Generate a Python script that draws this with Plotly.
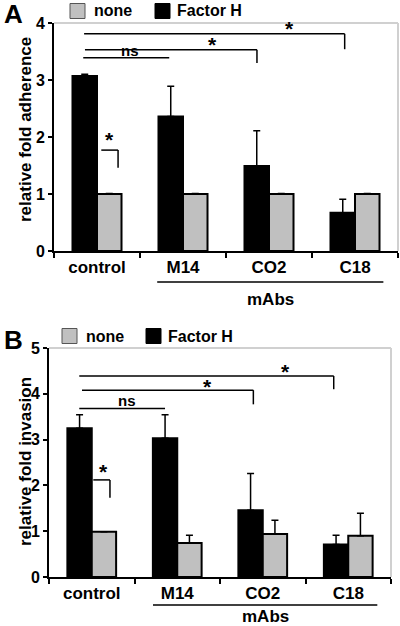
import plotly.graph_objects as go

# ---------------- data ----------------
categories = ["control", "M14", "CO2", "C18"]

adh_factorH = [3.07, 2.36, 1.49, 0.67]
adh_factorH_err = [0.03, 0.53, 0.62, 0.24]
adh_none = [1.0, 1.0, 1.0, 1.0]
adh_none_err = [0.01, 0.01, 0.01, 0.01]

inv_factorH = [3.25, 3.03, 1.46, 0.71]
inv_factorH_err = [0.29, 0.51, 0.80, 0.20]
inv_none = [0.99, 0.74, 0.94, 0.90]
inv_none_err = [0.0, 0.17, 0.30, 0.49]

series_names = ["none", "Factor H"]
panel_letters = ["A", "B"]
y_titles = ["relative fold adherence", "relative fold invasion"]
group_label = "mAbs"

FONT = "Liberation Sans, Arial, sans-serif"
GREY = "#c0c0c0"
W, H = 400, 626


def px(x):
    return x / W


def py(y):
    return 1 - y / H


fig = go.Figure()

panels = [
    dict(fh=adh_factorH, fhe=adh_factorH_err, no=adh_none, noe=adh_none_err, xa="x", ya="y"),
    dict(fh=inv_factorH, fhe=inv_factorH_err, no=inv_none, noe=inv_none_err, xa="x2", ya="y2"),
]

for p in panels:
    fig.add_trace(go.Bar(
        x=categories, y=p["fh"], name=series_names[1], showlegend=False,
        marker=dict(color="black", line=dict(color="black", width=2)),
        error_y=dict(type="data", symmetric=False, array=p["fhe"], arrayminus=[0] * 4,
                     color="black", thickness=1.5, width=3.5),
        xaxis=p["xa"], yaxis=p["ya"]))
    fig.add_trace(go.Bar(
        x=categories, y=p["no"], name=series_names[0], showlegend=False,
        marker=dict(color=GREY, line=dict(color="black", width=2)),
        error_y=dict(type="data", symmetric=False, array=p["noe"], arrayminus=[0] * 4,
                     color="black", thickness=1.5, width=3.5),
        xaxis=p["xa"], yaxis=p["ya"]))

xcommon = dict(type="category", categoryorder="array", categoryarray=categories,
               range=[-0.5, 3.5], showline=True, linecolor="black", linewidth=2,
               ticks="outside", tickson="boundaries", ticklen=5, tickwidth=2, tickcolor="black",
               showgrid=False, zeroline=False, automargin=False,
               tickfont=dict(family=FONT, size=17, color="black", weight="bold"))
ycommon = dict(showline=True, linecolor="black", linewidth=2, ticks="outside", ticklen=4,
               tickwidth=2, tickcolor="black", showgrid=False, zeroline=False, automargin=False,
               tickfont=dict(family=FONT, size=16, color="black", weight="bold"))

fig.update_layout(
    width=W, height=H, margin=dict(l=0, r=0, t=0, b=0, pad=0), autosize=False,
    paper_bgcolor="white", plot_bgcolor="white",
    barmode="group", bargap=0.43, bargroupgap=0, showlegend=False,
    xaxis=dict(domain=[px(54), px(398)], anchor="y", **xcommon),
    yaxis=dict(domain=[py(251), py(23)], anchor="x", range=[0, 4], tickvals=[0, 1, 2, 3, 4], **ycommon),
    xaxis2=dict(domain=[px(49), px(391)], anchor="y2", **xcommon),
    yaxis2=dict(domain=[py(577), py(348)], anchor="x2", range=[0, 5], tickvals=[0, 1, 2, 3, 4, 5], **ycommon),
)

shapes = []
annotations = []

# grey frame (top and right)
for xa, ya in [("x", "y"), ("x2", "y2")]:
    shapes.append(dict(type="line", xref=f"{xa} domain", yref=f"{ya} domain", x0=0, x1=1, y0=1, y1=1,
                       line=dict(color="#d0d0d0", width=2), layer="below"))
    shapes.append(dict(type="line", xref=f"{xa} domain", yref=f"{ya} domain", x0=1, x1=1, y0=0, y1=1,
                       line=dict(color="#d0d0d0", width=2), layer="below"))

# significance brackets: (x0, x1, y, drop_to, label, label_x, label_y)
brackets_A = [
    (-0.16, 0.84, 3.39, None, "ns", 0.38, 3.52),
    (-0.14, 1.86, 3.53, 3.30, "*", 1.34, 3.62),
    (-0.15, 2.88, 3.81, 3.54, "*", 2.24, 3.90),
    (0.05, 0.245, 1.77, 1.46, "*", 0.15, 1.96),
]
brackets_B = [
    (-0.146, 0.857, 3.68, None, "ns", 0.41, 3.86),
    (-0.114, 1.89, 4.08, 3.77, "*", 1.35, 4.16),
    (-0.146, 2.83, 4.39, 4.10, "*", 2.27, 4.48),
    (0.018, 0.213, 2.12, 1.73, "*", 0.14, 2.30),
]
for (xa, ya), brs in [(("x", "y"), brackets_A), (("x2", "y2"), brackets_B)]:
    for x0, x1, yv, drop, lab, lx, ly in brs:
        shapes.append(dict(type="line", xref=xa, yref=ya, x0=x0, x1=x1, y0=yv, y1=yv,
                           line=dict(color="black", width=1.5)))
        if drop is not None:
            shapes.append(dict(type="line", xref=xa, yref=ya, x0=x1, x1=x1, y0=yv, y1=drop,
                               line=dict(color="black", width=1.5)))
        annotations.append(dict(xref=xa, yref=ya, x=lx, y=ly, text=f"<b>{lab}</b>", showarrow=False,
                                font=dict(family=FONT, size=15 if lab == "ns" else 21, color="black"),
                                xanchor="center", yanchor="middle"))

# mAbs group line + label
for xa, yline, xl0, xl1, ytext in [("x", 282, 0.70, 3.33, 299), ("x2", 605, 0.716, 3.34, 616)]:
    shapes.append(dict(type="line", xref=xa, yref="paper", x0=xl0, x1=xl1, y0=py(yline), y1=py(yline),
                       line=dict(color="black", width=1.5)))
    annotations.append(dict(xref=xa, yref="paper", x=(xl0 + xl1) / 2, y=py(ytext), text=f"<b>{group_label}</b>",
                            showarrow=False, font=dict(family=FONT, size=17, color="black"),
                            xanchor="center", yanchor="middle"))

# y titles
for title, xt, yt in [(y_titles[0], 25, 130), (y_titles[1], 25, 462)]:
    annotations.append(dict(xref="paper", yref="paper", x=px(xt), y=py(yt), text=f"<b>{title}</b>",
                            textangle=-90, showarrow=False, font=dict(family=FONT, size=17, color="black"),
                            xanchor="center", yanchor="middle"))

# panel letters
for letter, xl, yl in [(panel_letters[0], 13, 14), (panel_letters[1], 13, 340)]:
    annotations.append(dict(xref="paper", yref="paper", x=px(xl), y=py(yl), text=f"<b>{letter}</b>",
                            showarrow=False, font=dict(family=FONT, size=26, color="black"),
                            xanchor="center", yanchor="middle"))

# manual legends
for (gx0, tx_none, bx0, tx_fh, ly) in [(70, 92, 155, 175, 11), (62, 84, 146, 166, 336)]:
    shapes.append(dict(type="rect", xref="paper", yref="paper", x0=px(gx0), x1=px(gx0 + 15),
                       y0=py(ly + 7.5), y1=py(ly - 7.5), fillcolor=GREY, line=dict(color="#555", width=1)))
    shapes.append(dict(type="rect", xref="paper", yref="paper", x0=px(bx0), x1=px(bx0 + 15),
                       y0=py(ly + 7.5), y1=py(ly - 7.5), fillcolor="black", line=dict(color="black", width=1)))
    annotations.append(dict(xref="paper", yref="paper", x=px(tx_none), y=py(ly), text=f"<b>{series_names[0]}</b>",
                            showarrow=False, font=dict(family=FONT, size=16, color="black"),
                            xanchor="left", yanchor="middle"))
    annotations.append(dict(xref="paper", yref="paper", x=px(tx_fh), y=py(ly), text=f"<b>{series_names[1]}</b>",
                            showarrow=False, font=dict(family=FONT, size=16, color="black"),
                            xanchor="left", yanchor="middle"))

fig.update_layout(shapes=shapes, annotations=annotations)
fig.write_html("out.html", config={"displayModeBar": False},
               post_script="document.body.style.margin='0px';document.body.style.overflow='hidden';")
